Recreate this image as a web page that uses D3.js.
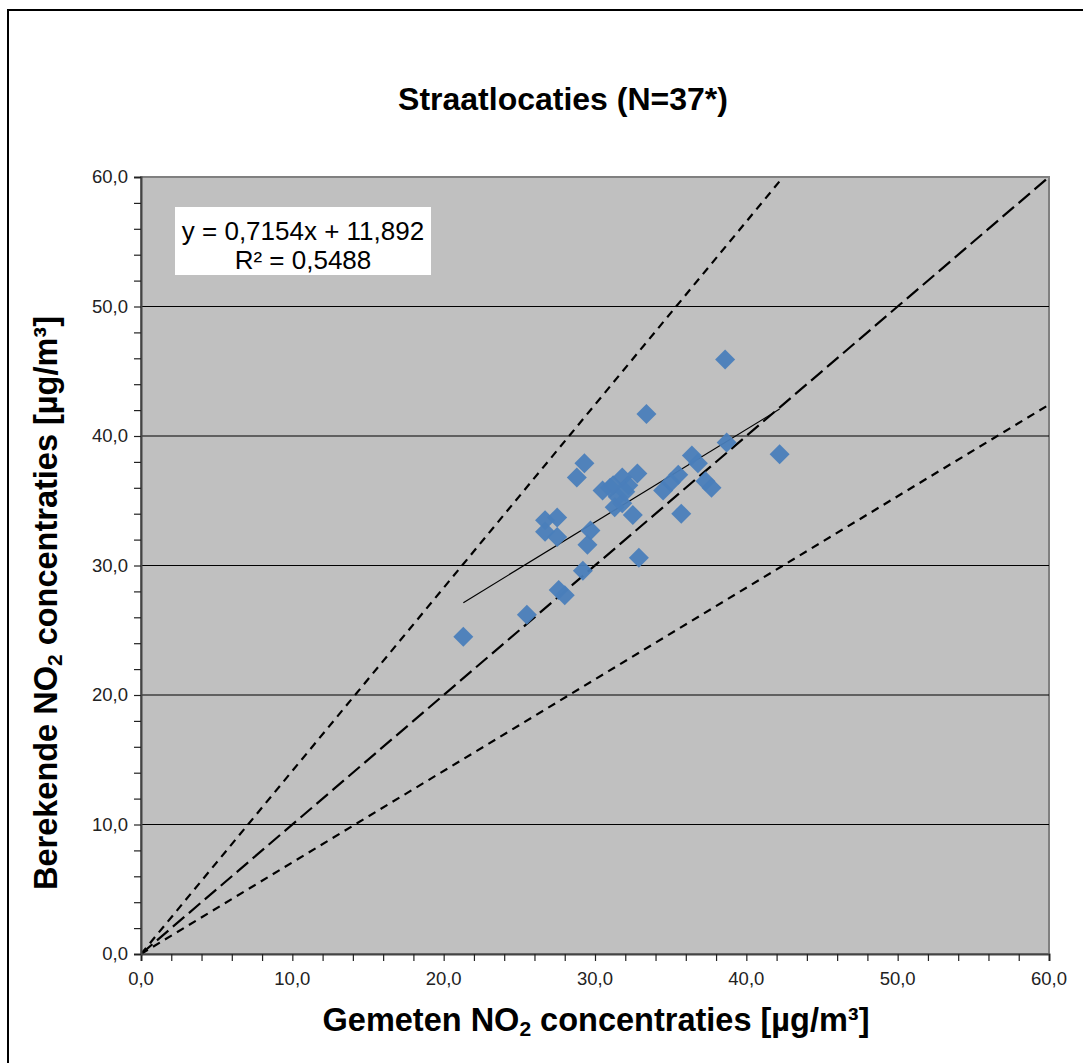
<!DOCTYPE html>
<html>
<head>
<meta charset="utf-8">
<script src="https://cdn.jsdelivr.net/npm/d3@7"></script>
<style>
  body { margin: 0; background: #fff; }
  text { font-family: "Liberation Sans", Arial, sans-serif; }
</style>
</head>
<body>
<svg id="chart"></svg>
<script>
// Measured vs computed NO2, street locations
const measured = [38.6, 33.4, 38.7, 42.2, 36.4, 36.8, 29.3, 28.8, 32.8, 35.5,
                  35.0, 34.5, 37.3, 37.7, 30.5, 31.8, 31.2, 32.2, 31.5, 31.3,
                  31.8, 31.0, 32.0, 32.5, 35.7, 26.7, 27.5, 26.7, 27.5, 29.7,
                  29.5, 32.9, 29.2, 27.6, 28.0, 25.5, 21.3];
const computed = [45.9, 41.7, 39.5, 38.6, 38.5, 37.9, 37.9, 36.8, 37.1, 37.0,
                  36.4, 35.8, 36.5, 36.0, 35.8, 36.8, 36.2, 36.2, 35.3, 34.5,
                  34.8, 36.0, 35.7, 33.9, 34.0, 33.5, 33.7, 32.6, 32.2, 32.7,
                  31.6, 30.6, 29.6, 28.1, 27.7, 26.2, 24.5];

// Trend line y = a*x + b
const SLOPE = 0.7154;
const INTERCEPT = 11.892;
const R2 = '0,5488';

// Reference lines y = f*x
const refFactors = [1.414, 1, 0.707];

const majorTicks = [0, 10, 20, 30, 40, 50, 60];
const minorTicks = d3.range(0, 61, 2);

// Canvas settings
const WIDTH = 1083, HEIGHT = 1063;
const PLOT = {left: 141, right: 1049, top: 177, bottom: 954};

const svg = d3.select('svg#chart').attr('width', WIDTH).attr('height', HEIGHT);
const fmt = v => v.toFixed(1).replace('.', ',');

const x = d3.scaleLinear().domain([0, 60]).range([PLOT.left, PLOT.right]);
const y = d3.scaleLinear().domain([0, 60]).range([PLOT.bottom, PLOT.top]);

// Outer chart border
svg.append('rect')
    .attr('x', 8).attr('y', 10)
    .attr('width', 1200).attr('height', 1200)
    .attr('fill', '#fff').attr('stroke', '#000').attr('stroke-width', 2);

// Plot background
svg.append('rect')
    .attr('x', PLOT.left).attr('y', PLOT.top)
    .attr('width', PLOT.right - PLOT.left).attr('height', PLOT.bottom - PLOT.top)
    .attr('fill', '#c0c0c0').attr('stroke', '#808080').attr('stroke-width', 2);

// Gridlines
svg.append('g').selectAll('line')
    .data(majorTicks.filter(t => t > 0 && t < 60))
    .join('line')
    .attr('x1', PLOT.left).attr('x2', PLOT.right)
    .attr('y1', d => y(d)).attr('y2', d => y(d))
    .attr('stroke', '#000').attr('stroke-width', 1.2);

// Clip for lines
svg.append('clipPath').attr('id', 'plotclip')
    .append('rect')
    .attr('x', PLOT.left).attr('y', PLOT.top)
    .attr('width', PLOT.right - PLOT.left).attr('height', PLOT.bottom - PLOT.top);

const lines = svg.append('g').attr('clip-path', 'url(#plotclip)');

// Reference lines
lines.selectAll('line.ref')
    .data(refFactors)
    .join('line')
    .attr('class', 'ref')
    .attr('x1', x(0)).attr('y1', y(0))
    .attr('x2', d => x(d > 1 ? 60 / d : 60))
    .attr('y2', d => y(d > 1 ? 60 : 60 * d))
    .attr('stroke', '#000')
    .attr('stroke-width', 2.2)
    .attr('stroke-dasharray', d => d === 1 ? '15,6' : '8,6');

// Trend line
const xMin = d3.min(measured), xMax = d3.max(measured);
lines.append('line')
    .attr('x1', x(xMin)).attr('y1', y(SLOPE * xMin + INTERCEPT))
    .attr('x2', x(xMax)).attr('y2', y(SLOPE * xMax + INTERCEPT))
    .attr('stroke', '#000').attr('stroke-width', 1.2);

// Points (diamonds)
const diamond = d3.symbol().type(d3.symbolSquare).size(200);
svg.append('g').selectAll('path')
    .data(measured.map((m, i) => [m, computed[i]]))
    .join('path')
    .attr('d', diamond)
    .attr('transform', d => `translate(${x(d[0])},${y(d[1])}) rotate(45)`)
    .attr('fill', '#4a7ebb')
    .attr('fill-opacity', 0.95);

// Axes
const xAxis = svg.append('g').attr('transform', `translate(0,${PLOT.bottom})`)
    .call(d3.axisBottom(x).tickValues(minorTicks).tickSize(7).tickFormat(''));
const yAxis = svg.append('g').attr('transform', `translate(${PLOT.left},0)`)
    .call(d3.axisLeft(y).tickValues(minorTicks).tickSize(7).tickFormat(''));
[xAxis, yAxis].forEach(a => {
    a.select('.domain').attr('stroke', '#444').attr('stroke-width', 2);
    a.selectAll('.tick line').attr('stroke', '#222').attr('stroke-width', 1.2);
});

// Tick labels
svg.append('g').selectAll('text')
    .data(majorTicks)
    .join('text')
    .attr('x', d => x(d)).attr('y', PLOT.bottom + 31)
    .attr('text-anchor', 'middle')
    .attr('font-size', 18.5).attr('fill', '#222')
    .text(fmt);
svg.append('g').selectAll('text')
    .data(majorTicks)
    .join('text')
    .attr('x', PLOT.left - 13).attr('y', d => y(d) + 6)
    .attr('text-anchor', 'end')
    .attr('font-size', 18.5).attr('fill', '#222')
    .text(fmt);

// Title
svg.append('text')
    .attr('x', 563).attr('y', 110)
    .attr('text-anchor', 'middle')
    .attr('font-size', 32).attr('font-weight', 'bold')
    .text('Straatlocaties (N=37*)');

// Axis titles with subscript
function axisTitle(g, before, after) {
    const t = g.append('text')
        .attr('text-anchor', 'middle')
        .attr('font-size', 32.5).attr('font-weight', 'bold');
    t.append('tspan').text(before);
    t.append('tspan').attr('font-size', 21).attr('dy', 5).text('2');
    t.append('tspan').attr('dy', -5).text(after);
    return t;
}
axisTitle(svg.append('g').attr('transform', 'translate(596,1031)'),
    'Gemeten NO', ' concentraties [µg/m³]');
axisTitle(svg.append('g').attr('transform', 'translate(57,603) rotate(-90)'),
    'Berekende NO', ' concentraties [µg/m³]');

// Regression label box
const box = svg.append('g');
box.append('rect')
    .attr('x', 175).attr('y', 207).attr('width', 256).attr('height', 68)
    .attr('fill', '#fff');
box.append('text')
    .attr('x', 303).attr('y', 240)
    .attr('text-anchor', 'middle').attr('font-size', 26)
    .text(`y = ${String(SLOPE).replace('.', ',')}x + ${String(INTERCEPT).replace('.', ',')}`);
box.append('text')
    .attr('x', 303).attr('y', 269)
    .attr('text-anchor', 'middle').attr('font-size', 26)
    .text(`R² = ${R2}`);
</script>
</body>
</html>
